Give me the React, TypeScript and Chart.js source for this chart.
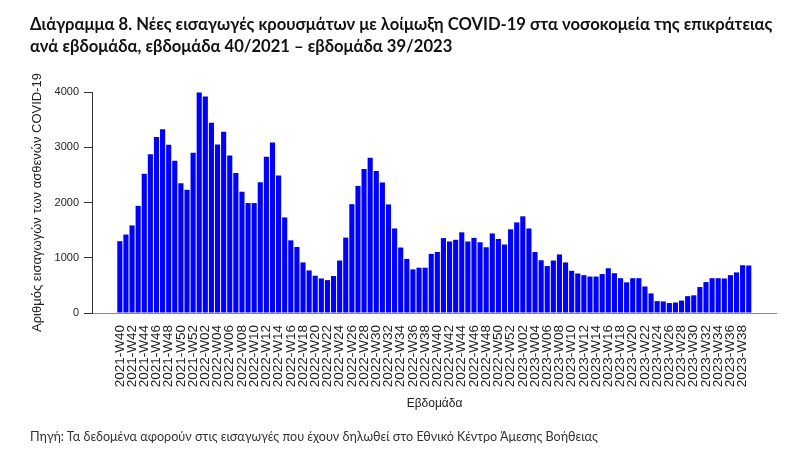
import React, { useEffect, useRef } from "react";
import { Chart, registerables } from "chart.js";

Chart.register(...registerables);

const TITLE_LINE_1 =
  "Διάγραμμα 8. Νέες εισαγωγές κρουσμάτων με λοίμωξη COVID-19 στα νοσοκομεία της επικράτειας";
const TITLE_LINE_2 = "ανά εβδομάδα, εβδομάδα 40/2021 – εβδομάδα 39/2023";
const SOURCE_NOTE =
  "Πηγή: Τα δεδομένα αφορούν στις εισαγωγές που έχουν δηλωθεί στο Εθνικό Κέντρο Άμεσης Βοήθειας";
const Y_TITLE = "Αριθμός εισαγωγών των ασθενών COVID-19";
const X_TITLE = "Εβδομάδα";

// week ranges per year (categories)
const YEARS = [2021, 2022, 2023];
const FIRST_WEEK = [40, 1, 1];
const LAST_WEEK = [52, 52, 39];

// weekly new admissions
const admissions2021 = [1300, 1420, 1585, 1940, 2520, 2875, 3185, 3325, 3045, 2755, 2350, 2230, 2900];
const admissions2022 = [
  3990, 3920, 3445, 3050, 3280, 2850, 2535, 2195, 1990, 1990, 2365, 2830, 3085, 2490, 1730, 1315,
  1195, 915, 770, 675, 625, 595, 670, 950, 1365, 1970, 2300, 2605, 2810, 2570, 2360, 1965, 1530,
  1185, 980, 790, 820, 820, 1070, 1105, 1355, 1295, 1325, 1460, 1295, 1360, 1280, 1190, 1440,
  1340, 1240, 1515,
];
const admissions2023 = [
  1640, 1750, 1530, 1105, 955, 850, 950, 1060, 915, 765, 715, 685, 660, 660, 705, 810, 720, 630,
  555, 630, 630, 480, 355, 215, 210, 180, 190, 225, 305, 320, 470, 560, 630, 630, 625, 685, 735,
  865, 860,
];

const Y_TICKS = [0, 1000, 2000, 3000, 4000];

function buildWeekLabels(): string[] {
  const out: string[] = [];
  YEARS.forEach((y, k) => {
    for (let w = FIRST_WEEK[k]; w <= LAST_WEEK[k]; w++) {
      out.push(`${y}-W${String(w).padStart(2, "0")}`);
    }
  });
  return out;
}

const weekLabels = buildWeekLabels();
const admissions = [...admissions2021, ...admissions2022, ...admissions2023];

const AXIS_FONT = "'Liberation Sans', Arial, sans-serif";

export default function App() {
  const canvasRef = useRef<HTMLCanvasElement | null>(null);

  useEffect(() => {
    const canvas = canvasRef.current;
    if (!canvas) return;
    const chart = new Chart(canvas, {
      type: "bar",
      data: {
        datasets: [
          {
            data: admissions.map((v, i) => ({ x: i, y: v })),
            backgroundColor: "#0000ff",
            borderWidth: 0,
            barPercentage: 0.84,
            categoryPercentage: 1,
          },
        ],
      },
      options: {
        responsive: false,
        animation: false,
        devicePixelRatio: 1,
        layout: { padding: { left: 0, right: 23, top: 92, bottom: 40 } },
        plugins: {
          legend: { display: false },
          tooltip: { enabled: false },
          title: { display: false },
        },
        scales: {
          x: {
            type: "linear",
            offset: false,
            min: -4.56,
            max: 107.63,
            afterBuildTicks: (scale: any) => {
              scale.ticks = weekLabels
                .map((_, i) => ({ value: i }))
                .filter((t) => t.value % 2 === 0);
            },
            afterFit: (scale: any) => {
              scale.height = 98;
            },
            ticks: {
              autoSkip: false,
              minRotation: 90,
              maxRotation: 90,
              padding: 12,
              color: "#222",
              font: { family: AXIS_FONT, size: 13.5 },
              callback: (v: any) => weekLabels[v as number] ?? "",
            },
            grid: { display: false, drawTicks: false },
            border: { display: false },
            title: {
              display: true,
              text: X_TITLE,
              color: "#222",
              font: { family: AXIS_FONT, size: 12 },
              padding: { top: 0, bottom: 0 },
            },
          },
          y: {
            type: "linear",
            min: 0,
            max: 4000,
            afterBuildTicks: (scale: any) => {
              scale.ticks = Y_TICKS.map((v) => ({ value: v }));
            },
            afterFit: (scale: any) => {
              scale.width = 92;
            },
            ticks: {
              padding: 5,
              color: "#222",
              font: { family: AXIS_FONT, size: 11 },
              callback: (v: any) => String(v),
            },
            grid: {
              drawOnChartArea: true,
              drawTicks: true,
              tickLength: 8,
              tickColor: "#333",
              color: (ctx: any) => (ctx.tick && ctx.tick.value === 0 ? "#888" : "rgba(0,0,0,0)"),
              lineWidth: 1,
            },
            border: { display: true, color: "#333", width: 1 },
            title: {
              display: true,
              text: Y_TITLE,
              color: "#222",
              font: { family: AXIS_FONT, size: 13 },
              padding: { top: 30, bottom: 0 },
            },
          },
        },
      },
    } as any);
    return () => chart.destroy();
  }, []);

  return (
    <div
      style={{
        position: "absolute",
        left: 0,
        top: 0,
        width: 800,
        height: 451,
        background: "#fff",
        overflow: "hidden",
      }}
    >
      <canvas
        ref={canvasRef}
        width={800}
        height={451}
        style={{ position: "absolute", left: 0, top: 0, display: "block" }}
      />
      <div
        style={{
          position: "absolute",
          left: 30,
          top: 13,
          fontFamily: "Lato, 'Noto Sans', sans-serif",
          fontWeight: 700,
          fontSize: 16.6,
          lineHeight: "22px",
          color: "#111",
          whiteSpace: "nowrap",
        }}
      >
        <div>{TITLE_LINE_1}</div>
        <div>{TITLE_LINE_2}</div>
      </div>
      <div
        style={{
          position: "absolute",
          left: 30,
          top: 429,
          fontFamily: "Lato, 'Noto Sans', sans-serif",
          fontWeight: 400,
          fontSize: 12.6,
          lineHeight: "15px",
          color: "#333",
          whiteSpace: "nowrap",
        }}
      >
        {SOURCE_NOTE}
      </div>
    </div>
  );
}
